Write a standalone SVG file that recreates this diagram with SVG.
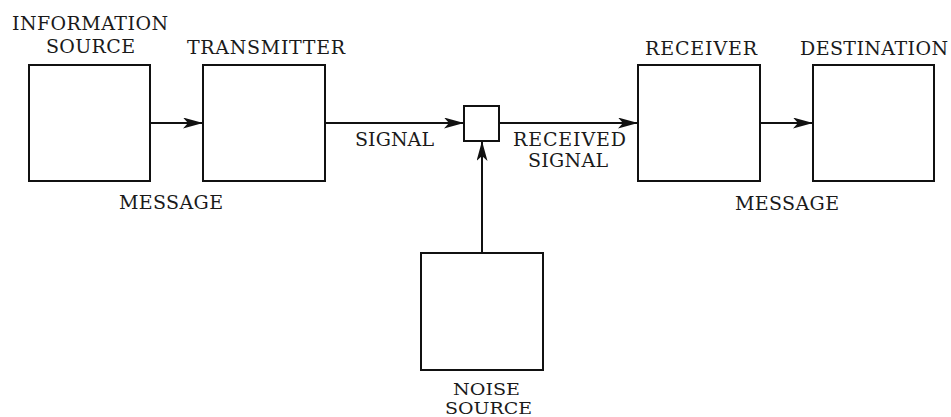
<svg xmlns="http://www.w3.org/2000/svg" width="951" height="417" viewBox="0 0 951 417">
<style>
.box{fill:#fff;stroke:#111;stroke-width:2}
.ln{stroke:#111;stroke-width:2;fill:none}
text{font-family:"DejaVu Serif","Liberation Serif",serif;font-size:19px;fill:#1a1a1a;text-anchor:middle}
.sm{font-size:16px}
</style>
<defs>
<marker id="ah" markerUnits="userSpaceOnUse" markerWidth="22" markerHeight="12" refX="20" refY="5.5" orient="auto">
<path d="M0,0 L20,5.5 L0,11 L5,5.5 z" fill="#111"/>
</marker>
</defs>
<g id="connectors">
<line class="ln" x1="150" y1="123" x2="203" y2="123" marker-end="url(#ah)"/>
<line class="ln" x1="325" y1="123" x2="464" y2="123" marker-end="url(#ah)"/>
<line class="ln" x1="499" y1="123" x2="638" y2="123" marker-end="url(#ah)"/>
<line class="ln" x1="760" y1="123" x2="813" y2="123" marker-end="url(#ah)"/>
<line class="ln" x1="482" y1="253" x2="482" y2="141" marker-end="url(#ah)"/>
<text x="171" y="209" textLength="104">MESSAGE</text>
<text x="394.5" y="146" textLength="79">SIGNAL</text>
<text x="569.5" y="146" textLength="113">RECEIVED</text>
<text x="568" y="167" textLength="80">SIGNAL</text>
<text x="787" y="210" textLength="104">MESSAGE</text>
</g>
<g id="info-source">
<rect class="box" x="29" y="65" width="121" height="116"/>
<text x="90" y="30" textLength="156">INFORMATION</text>
<text x="90.5" y="53" textLength="89">SOURCE</text>
</g>
<g id="transmitter">
<rect class="box" x="203" y="65" width="122" height="116"/>
<text x="266" y="54" textLength="158">TRANSMITTER</text>
</g>
<g id="mixer">
<rect class="box" x="464" y="106" width="35" height="35"/>
</g>
<g id="receiver">
<rect class="box" x="638" y="65" width="122" height="116"/>
<text x="701" y="55" textLength="112">RECEIVER</text>
</g>
<g id="destination">
<rect class="box" x="813" y="65" width="121" height="116"/>
<text x="874" y="55" textLength="148">DESTINATION</text>
</g>
<g id="noise-source">
<rect class="box" x="421" y="253" width="122" height="117"/>
<text class="sm" x="486.5" y="395" textLength="67" lengthAdjust="spacingAndGlyphs">NOISE</text>
<text class="sm" x="488.5" y="414" textLength="87" lengthAdjust="spacingAndGlyphs">SOURCE</text>
</g>
</svg>
